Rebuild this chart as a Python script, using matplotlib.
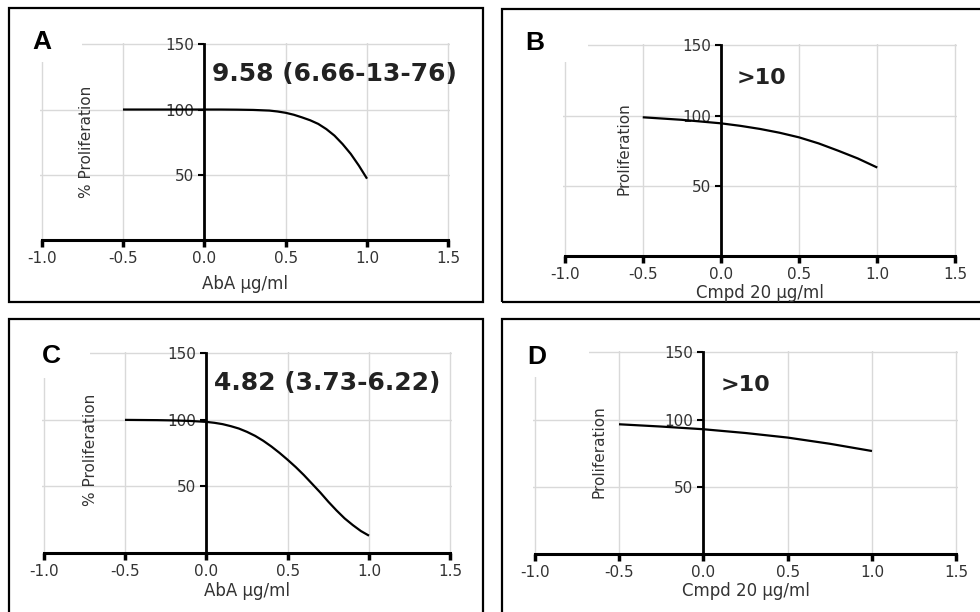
import matplotlib
matplotlib.use("Agg")
import matplotlib.pyplot as plt
from matplotlib.patches import Rectangle

# dose-response curves (x = log conc, y = % proliferation)
a_x = [-0.5, -0.25, 0.0, 0.1, 0.2, 0.3, 0.4, 0.45, 0.5, 0.55, 0.6, 0.65, 0.7, 0.75, 0.8, 0.85, 0.9, 0.95, 1.0]
a_y = [100, 100, 100, 100, 99.9, 99.7, 99.2, 98.5, 97.5, 96, 94, 91.8, 89, 85, 80, 73.5, 66, 57, 47]

b_x = [-0.5, -0.25, 0.0, 0.125, 0.25, 0.375, 0.5, 0.625, 0.75, 0.875, 1.0]
b_y = [98.8, 97, 94.5, 92.7, 90.5, 87.8, 84.5, 80.2, 75, 69.5, 63]

c_x = [-0.5, -0.4, -0.3, -0.2, -0.1, 0.0, 0.05, 0.1, 0.15, 0.2, 0.25, 0.3, 0.35, 0.4, 0.45, 0.5,
       0.55, 0.6, 0.65, 0.7, 0.75, 0.8, 0.85, 0.9, 0.95, 1.0]
c_y = [100, 99.9, 99.8, 99.6, 99.2, 98.5, 97.8, 96.8, 95.3, 93.5, 91, 88, 84.3, 80, 75.2, 70,
       64.5, 58.5, 52, 45.5, 38.5, 32, 26, 21, 16.5, 13]

d_x = [-0.5, -0.25, 0.0, 0.25, 0.5, 0.75, 1.0]
d_y = [96.5, 94.8, 92.8, 90, 86.6, 82, 76.6]

x_ticks = [-1.0, -0.5, 0.0, 0.5, 1.0, 1.5]
y_ticks = [50, 100, 150]

W, H = 980, 612
fig = plt.figure(figsize=(W / 100, H / 100), dpi=100)


def px_rect(x0, y0, x1, y1):
    # pixel box (top-left origin) -> figure fraction [left, bottom, width, height]
    return [x0 / W, 1 - y1 / H, (x1 - x0) / W, (y1 - y0) / H]


def panel(axbox, xs, ys, xlabel, xlab_y, ylabel, ylab_xy, note, note_xy, note_size):
    ax = fig.add_axes(px_rect(*axbox))
    ax.set_xlim(-1.01, 1.51)
    ax.set_ylim(0, 151)
    for v in x_ticks:
        ax.axvline(v, color="#d9d9d9", lw=1, zorder=0)
    for v in y_ticks:
        ax.axhline(v, color="#d9d9d9", lw=1, zorder=0)
    ax.plot(xs, ys, color="black", lw=1.6, zorder=4, solid_capstyle="butt")

    for s in ["top", "right"]:
        ax.spines[s].set_visible(False)
    ax.spines["left"].set_position(("data", 0))
    ax.spines["bottom"].set_position(("data", 0))
    ax.spines["left"].set_bounds(0, 150)
    ax.spines["bottom"].set_bounds(-1, 1.5)
    ax.spines["left"].set_linewidth(2)
    ax.spines["bottom"].set_linewidth(2.2)

    ax.set_xticks(x_ticks)
    ax.set_xticklabels([f"{v:.1f}" for v in x_ticks])
    ax.set_yticks(y_ticks)
    ax.tick_params(axis="x", direction="out", length=5, width=2.5, pad=3,
                   labelsize=11, labelcolor="#333333")
    ax.tick_params(axis="y", direction="out", length=4, width=1.5, pad=3,
                   labelsize=11, labelcolor="#333333")
    ax.patch.set_alpha(0)

    x0, y0, x1, y1 = axbox
    fig.text((x0 + x1) / 2 / W, 1 - xlab_y / H, xlabel, ha="center",
             va="center", fontsize=12, color="#333333")
    fig.text(ylab_xy[0] / W, 1 - ylab_xy[1] / H, ylabel, rotation=90,
             ha="center", va="center", fontsize=11, color="#333333")
    ax.text(note_xy[0], note_xy[1], note, ha="left", va="center",
            fontsize=note_size, fontweight="bold", color="#222222")
    return ax


panel((40, 43, 450, 240), a_x, a_y, "AbA µg/ml", 284, "% Proliferation", (86, 142),
      "9.58 (6.66-13-76)", (0.05, 127), 18)
panel((563, 44, 957, 256), b_x, b_y, "Cmpd 20 µg/ml", 293, "Proliferation", (624, 149),
      ">10", (0.10, 126.5), 16)
panel((42, 352, 452, 553), c_x, c_y, "AbA µg/ml", 591, "% Proliferation", (90, 450),
      "4.82 (3.73-6.22)", (0.05, 128), 18)
panel((533, 351, 958, 554), d_x, d_y, "Cmpd 20 µg/ml", 591, "Proliferation", (599, 452),
      ">10", (0.10, 126), 16)

# white patches behind the panel letters
for box in [(20, 20, 82, 62), (510, 20, 588, 62), (20, 330, 90, 378), (510, 330, 589, 377)]:
    l, b, w, h = px_rect(*box)
    fig.patches.append(Rectangle((l, b), w, h, transform=fig.transFigure,
                                 facecolor="white", edgecolor="none", zorder=1))

# panel borders
for box in [(9, 8, 483, 302), (502, 9, 990, 302), (9, 319, 483, 620), (502, 319, 990, 620)]:
    l, b, w, h = px_rect(*box)
    fig.patches.append(Rectangle((l, b), w, h, transform=fig.transFigure,
                                 facecolor="none", edgecolor="black", lw=1.6, zorder=2))

for letter, (px, py) in zip("ABCD", [(42, 42), (535, 43), (51, 356), (537, 357)]):
    fig.text(px / W, 1 - py / H, letter, ha="center", va="center", fontsize=19,
             fontweight="bold", family="Liberation Sans", zorder=3)

fig.savefig("out.png", dpi=100)
